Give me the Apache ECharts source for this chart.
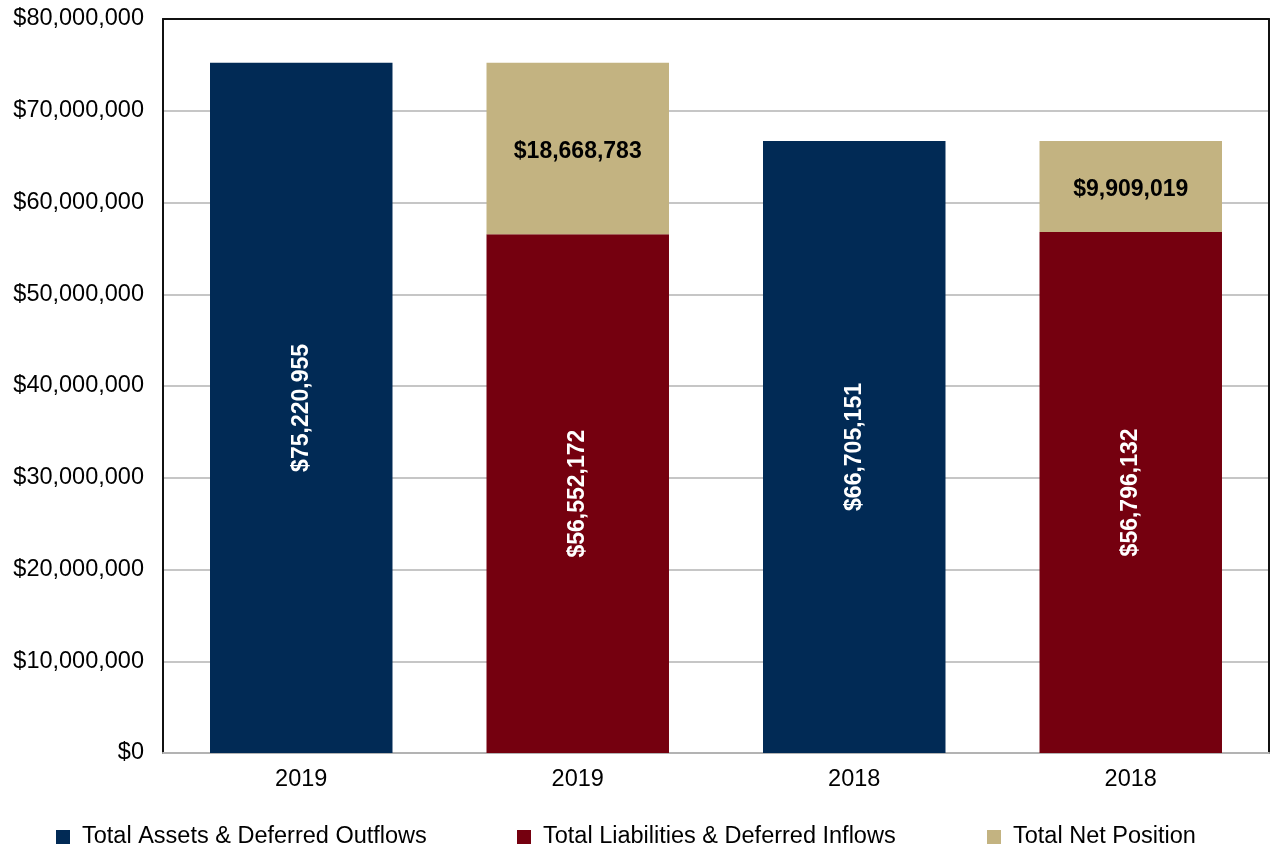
<!DOCTYPE html>
<html>
<head>
<meta charset="utf-8">
<script src="https://cdn.jsdelivr.net/npm/echarts@6/dist/echarts.min.js"></script>
<style>
html,body{margin:0;padding:0;background:#fff;}
#chart{width:1270px;height:848px;}
</style>
</head>
<body>
<div id="chart"></div>
<script>
const categories = ['2019', '2019', '2018', '2018'];
const assets = [75220955, '-', 66705151, '-'];
const liabilities = ['-', 56552172, '-', 56796132];
const netPosition = ['-', 18668783, '-', 9909019];
const yTicks = { min: 0, max: 80000000, interval: 10000000 };
const seriesNames = ['Total Assets & Deferred Outflows', 'Total Liabilities & Deferred Inflows', 'Total Net Position'];

const FONT = '"Liberation Sans", Arial, sans-serif';
const money = v => '$' + Number(v).toLocaleString('en-US');

const chart = echarts.init(document.getElementById('chart'));
const legendCommon = {
  top: 825, padding: 0,
  itemWidth: 14, itemHeight: 14, icon: 'rect',
  textStyle: { fontFamily: FONT, fontSize: 23.5, color: '#000', padding: [0, 0, 0, 7] }
};
const labelCommon = { fontFamily: FONT, fontWeight: 'bold', fontSize: 23, formatter: p => money(p.value) };
chart.setOption({
  animation: false,
  backgroundColor: '#fff',
  grid: { left: 163, right: 1, top: 19, bottom: 95 },
  legend: [
    Object.assign({ left: 56, data: [seriesNames[0]] }, legendCommon),
    Object.assign({ left: 517, data: [seriesNames[1]] }, legendCommon),
    Object.assign({ left: 987, data: [seriesNames[2]] }, legendCommon)
  ],
  xAxis: [{
    type: 'category', data: categories,
    axisLine: { onZero: false, lineStyle: { color: '#b3b3b3', width: 2 } },
    axisTick: { show: false },
    axisLabel: { fontFamily: FONT, fontSize: 23.5, color: '#000', margin: 15 }
  }, {
    type: 'category', data: categories, position: 'top',
    axisLine: { onZero: false, lineStyle: { color: '#111', width: 2 } },
    axisTick: { show: false }, axisLabel: { show: false }
  }],
  yAxis: [{
    type: 'value', min: yTicks.min, max: yTicks.max, interval: yTicks.interval,
    axisLine: { show: true, onZero: false, lineStyle: { color: '#111', width: 2 } }, axisTick: { show: false },
    splitLine: { lineStyle: { color: '#b3b3b3', width: 1.5 } },
    axisLabel: { fontFamily: FONT, fontSize: 23.5, color: '#000', margin: 19, formatter: money }
  }, {
    type: 'value', min: yTicks.min, max: yTicks.max, interval: yTicks.interval, position: 'right',
    axisLine: { show: true, onZero: false, lineStyle: { color: '#111', width: 2 } }, axisTick: { show: false },
    splitLine: { show: false }, axisLabel: { show: false }
  }],
  series: [
    {
      name: seriesNames[0], type: 'bar', stack: 'a', data: assets, barWidth: '66%',
      itemStyle: { color: '#012A55' },
      label: Object.assign({ show: true, position: 'inside', rotate: 90, color: '#fff' }, labelCommon)
    },
    {
      name: seriesNames[1], type: 'bar', stack: 'a', data: liabilities, barWidth: '66%',
      itemStyle: { color: '#75000F' },
      label: Object.assign({ show: true, position: 'inside', rotate: 90, color: '#fff' }, labelCommon)
    },
    {
      name: seriesNames[2], type: 'bar', stack: 'a', data: netPosition, barWidth: '66%',
      itemStyle: { color: '#C3B381' },
      label: Object.assign({ show: true, position: 'inside', color: '#000', offset: [0, 3] }, labelCommon)
    }
  ]
});
</script>
</body>
</html>
